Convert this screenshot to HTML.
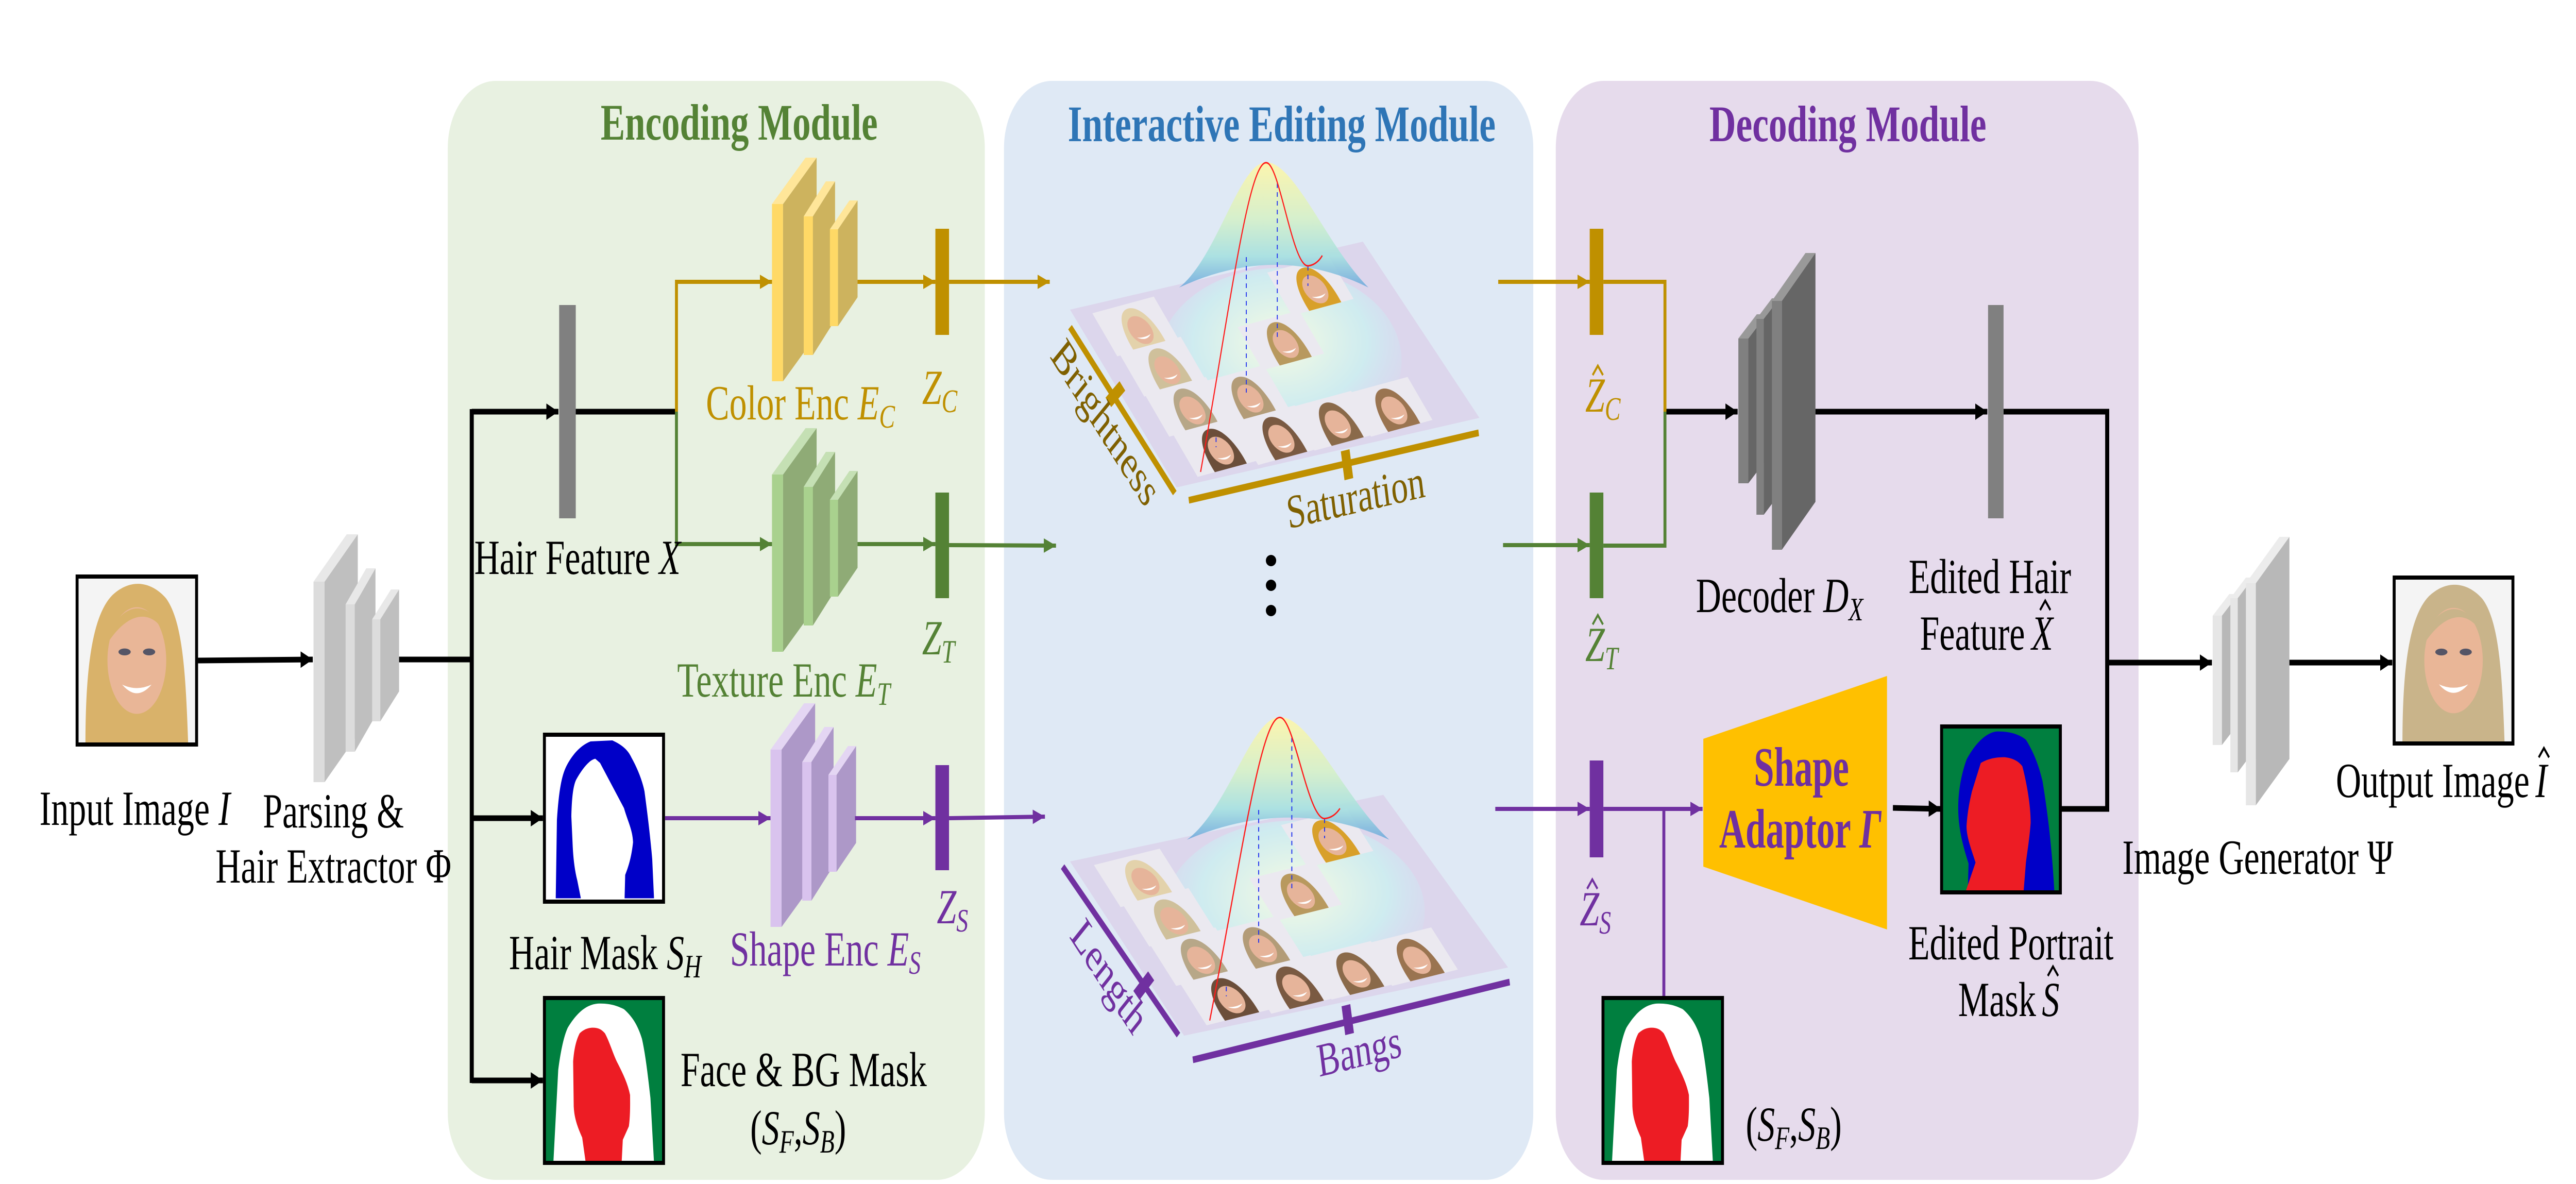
<!DOCTYPE html>
<html><head><meta charset="utf-8">
<style>
html,body{margin:0;padding:0;background:#fff;overflow:hidden;width:100%;height:100%;}
#root{display:block;width:100vw;height:100vh;}
text{font-family:"Liberation Serif","DejaVu Serif",serif;}
.it{font-style:italic;}
</style></head>
<body>
<svg id="root" viewBox="0 0 6984 2298" preserveAspectRatio="none" xmlns="http://www.w3.org/2000/svg">
<defs>
<marker id="ak" markerUnits="userSpaceOnUse" markerWidth="36" markerHeight="34" refX="33" refY="16" orient="auto"><path d="M0,0 L33,16 L0,32 z" fill="#000"/></marker>
<marker id="ao" markerUnits="userSpaceOnUse" markerWidth="36" markerHeight="34" refX="33" refY="14" orient="auto"><path d="M0,0 L33,14 L0,28 z" fill="#bf9000"/></marker>
<marker id="ag" markerUnits="userSpaceOnUse" markerWidth="36" markerHeight="34" refX="33" refY="14" orient="auto"><path d="M0,0 L33,14 L0,28 z" fill="#548235"/></marker>
<marker id="ap" markerUnits="userSpaceOnUse" markerWidth="36" markerHeight="34" refX="33" refY="14" orient="auto"><path d="M0,0 L33,14 L0,28 z" fill="#7030a0"/></marker>
<linearGradient id="bell" x1="0" y1="0" x2="0" y2="1">
<stop offset="0" stop-color="#fff6a6"/><stop offset="0.45" stop-color="#d5f0c8"/><stop offset="0.75" stop-color="#a6e0e0"/><stop offset="1" stop-color="#6fa8dc"/></linearGradient>
<radialGradient id="glow" cx="0.5" cy="0.4" r="0.6">
<stop offset="0" stop-color="#f6fbe2"/><stop offset="0.6" stop-color="#cdeef0" stop-opacity="0.9"/><stop offset="1" stop-color="#cfe0f5" stop-opacity="0"/></radialGradient>
<g id="enc">
<rect x="2093" y="396" width="30" height="344" style="fill:var(--f)"/>
<polygon points="2123,396 2214,306 2214,650 2123,740" style="fill:var(--s)"/>
<polygon points="2093,396 2184,306 2214,306 2123,396" style="fill:var(--t)"/>
<rect x="2179" y="420" width="25" height="269" style="fill:var(--f)"/>
<polygon points="2204,420 2264,352 2264,621 2204,689" style="fill:var(--s)"/>
<polygon points="2179,420 2239,352 2264,352 2204,420" style="fill:var(--t)"/>
<rect x="2250" y="445" width="22" height="188" style="fill:var(--f)"/>
<polygon points="2272,445 2325,389 2325,577 2272,633" style="fill:var(--s)"/>
<polygon points="2250,445 2303,389 2325,389 2272,445" style="fill:var(--t)"/>
</g>
<symbol id="hairmask" viewBox="0 0 100 100" preserveAspectRatio="none">
<rect width="100" height="100" fill="#fff"/>
<path d="M9.5,98 L10.5,51 C12,35 14,25 18.6,18.6 C25,10 32,6 38.7,4 L57,3.4 C65,6 70,9 73,13.6 C78,20 82,27 84,33.9 C87,50 89,62 90.5,74.6 L92,98 Z" fill="#0000c8"/>
<path d="M30.6,98 L27.6,87.3 C25,80 24,72 23.6,64.4 L22.6,49 C23,38 24,31 26.6,27 C32,20 38,15 42.7,14.4 L46.7,16.9 L66.8,44 C70,52 74,57 74.4,64.4 C73,74 70,80 67.8,84 L67.3,98 Z" fill="#fff"/>
</symbol>
<symbol id="fbmask" viewBox="0 0 100 100" preserveAspectRatio="none">
<rect width="100" height="100" fill="#007f3f"/>
<path d="M7.5,100 L11.6,43.6 C14,30 17,22 19.6,18 C28,8 36,4 44.7,3.4 C55,3 62,5 66.8,6.8 C75,12 79,18 81.9,24.8 C85,35 87,48 89,60.7 L92,100 Z" fill="#fff"/>
<path d="M34.7,100 L31.7,84.6 C27,77 25,72 24.6,65.8 L24.1,38.5 C25,30 27,25 29.6,21.4 C33,19 37,18 40.7,18 C45,18 48,19 50.8,21.4 C55,27 58,35 61.8,40 C66,46 70,52 71.9,58.8 C72,66 72,72 70.9,77.8 L65.8,86 L64.8,100 Z" fill="#ed1c24"/>
</symbol>
<symbol id="pmask" viewBox="0 0 100 100" preserveAspectRatio="none">
<rect width="100" height="100" fill="#007f3f"/>
<path d="M22,100 L22.7,82.6 C17,70 14,60 14,49 C14,38 17,28 21,20 C30,8 40,3 47.5,3 C58,3 66,5 71,8 C78,16 82,24 85,33 C90,55 93,75 95,100 Z" fill="#0000c8"/>
<path d="M20,100 L28.6,82 C24,72 21,66 21,60 C22,50 24,44 25.6,39 L33,22 C40,19 47,18.5 53,18.5 C60,19 65,21 68,24 C72,35 75,48 75,58 C74,68 72,76 71,82 L69,100 Z" fill="#ed1c24"/>
</symbol>
<symbol id="photo" viewBox="0 0 100 100" preserveAspectRatio="none">
<rect width="100" height="100" fill="#f4f4f4"/>
<path d="M8,100 C8,60 12,25 30,12 C45,2 62,4 74,14 C88,28 90,60 92,100 Z" style="fill:var(--h)"/>
<ellipse cx="50" cy="50" rx="24" ry="31" fill="#e9b697"/>
<path d="M26,40 C32,18 60,10 74,36 C66,22 46,18 26,40 Z" style="fill:var(--h)"/>
<ellipse cx="40" cy="45" rx="5" ry="2" fill="#556"/>
<ellipse cx="60" cy="45" rx="5" ry="2" fill="#556"/>
<path d="M38,64 Q50,74 62,64 Q50,68 38,64 Z" fill="#fff"/>
</symbol>
<symbol id="sm" viewBox="0 0 100 60" preserveAspectRatio="none">
<rect width="100" height="60" fill="#ebe9f0"/>
<path d="M28,60 C26,30 36,6 54,6 C72,6 82,30 80,60 Z" style="fill:var(--h)"/>
<ellipse cx="54" cy="36" rx="17" ry="19" fill="#e6b49a"/>
<path d="M43,44 Q54,52 65,44 Q54,47 43,44 Z" fill="#fff"/>
</symbol>
<g id="plane">
<polygon points="2901,601 3695,469 4011,811 3190,946" fill="#dcd6ec"/>
<ellipse cx="3470" cy="700" rx="330" ry="180" fill="url(#glow)"/>
<g>
<use href="#sm" width="170" height="95" transform="translate(3079,634) rotate(-11) skewX(28) translate(-85,-48)" style="--h:#e3d2ab"/>
<use href="#sm" width="170" height="95" transform="translate(3152,712) rotate(-11) skewX(28) translate(-85,-48)" style="--h:#cfc09b"/>
<use href="#sm" width="170" height="95" transform="translate(3220,790) rotate(-11) skewX(28) translate(-85,-48)" style="--h:#b7a788"/>
<use href="#sm" width="170" height="95" transform="translate(3377,767) rotate(-11) skewX(28) translate(-85,-48)" style="--h:#b39c78"/>
<use href="#sm" width="170" height="95" transform="translate(3473,661) rotate(-11) skewX(28) translate(-85,-48)" style="--h:#b8995e"/>
<use href="#sm" width="170" height="95" transform="translate(3553,555) rotate(-11) skewX(28) translate(-85,-48)" style="--h:#d8a02a"/>
<use href="#sm" width="170" height="95" transform="translate(3297,868) rotate(-11) skewX(28) translate(-85,-48)" style="--h:#6b4e3a"/>
<use href="#sm" width="170" height="95" transform="translate(3461,845) rotate(-11) skewX(28) translate(-85,-48)" style="--h:#7a5a42"/>
<use href="#sm" width="170" height="95" transform="translate(3614,817) rotate(-11) skewX(28) translate(-85,-48)" style="--h:#8a6a4a"/>
<use href="#sm" width="170" height="95" transform="translate(3767,790) rotate(-11) skewX(28) translate(-85,-48)" style="--h:#9a7450"/>
</g>
<path d="M3197,558 C3300,500 3360,315 3433,315 C3510,315 3600,480 3710,558 Q3461,470 3197,558 Z" fill="url(#bell)" opacity="0.9"/>
<g stroke="#2233ee" stroke-width="2.5" stroke-dasharray="9,8" fill="none">
<line x1="3379" y1="499" x2="3379" y2="762"/>
<line x1="3463" y1="356" x2="3463" y2="659"/>
<line x1="3546" y1="516" x2="3546" y2="555"/>
<line x1="3297" y1="849" x2="3297" y2="868"/>
</g>
<path d="M3255,916 C3330,620 3385,305 3435,316 C3470,322 3505,520 3547,516 Q3570,514 3585,496" fill="none" stroke="#ff1a1a" stroke-width="3"/>
</g>
</defs>

<rect x="1214" y="157" width="1456" height="2133" rx="130" fill="#e8f1e1"/>
<rect x="2722" y="157" width="1435" height="2133" rx="130" fill="#dfe9f5"/>
<rect x="4218" y="157" width="1580" height="2133" rx="130" fill="#e6dbec"/>

<text x="2004" y="271" font-size="100" font-weight="bold" fill="#548235" text-anchor="middle" textLength="751" lengthAdjust="spacingAndGlyphs">Encoding Module</text>
<text x="3475" y="274" font-size="100" font-weight="bold" fill="#2e75b6" text-anchor="middle" textLength="1160" lengthAdjust="spacingAndGlyphs">Interactive Editing Module</text>
<text x="5010" y="274" font-size="100" font-weight="bold" fill="#7030a0" text-anchor="middle" textLength="751" lengthAdjust="spacingAndGlyphs">Decoding Module</text>

<use href="#photo" x="205" y="1115" width="332" height="334" style="--h:#d9b26a"/>
<rect x="209" y="1119" width="324" height="326" fill="none" stroke="#000" stroke-width="8"/>
<use href="#photo" x="6487" y="1117" width="330" height="330" style="--h:#c9b48a"/>
<rect x="6491" y="1121" width="322" height="322" fill="none" stroke="#000" stroke-width="8"/>

<g>
<rect x="850" y="1129" width="30" height="389" fill="#dcdcdc"/>
<polygon points="880,1129 970,1037 970,1426 880,1518" fill="#bfbfbf"/>
<polygon points="850,1129 940,1037 970,1037 880,1129" fill="#e8e8e8"/>
<rect x="937" y="1173" width="25" height="286" fill="#dcdcdc"/>
<polygon points="962,1173 1018,1103 1018,1389 962,1459" fill="#bfbfbf"/>
<polygon points="937,1173 993,1103 1018,1103 962,1173" fill="#e8e8e8"/>
<rect x="1009" y="1202" width="22" height="198" fill="#dcdcdc"/>
<polygon points="1031,1202 1082,1144 1082,1342 1031,1400" fill="#bfbfbf"/>
<polygon points="1009,1202 1060,1144 1082,1144 1031,1202" fill="#e8e8e8"/>
</g>

<use href="#enc" style="--f:#ffd966;--s:#cdb35e;--t:#ffe699"/>
<use href="#enc" transform="translate(0,525)" style="--f:#a9d18e;--s:#8fab76;--t:#c5e0b4"/>
<use href="#enc" transform="translate(-4,1059)" style="--f:#d9c3ee;--s:#ad98c8;--t:#e4d6f3"/>

<g>
<rect x="4713" y="657" width="27" height="281" fill="#808080"/>
<polygon points="4740,657 4790,610 4790,891 4740,938" fill="#666"/>
<polygon points="4713,657 4763,610 4790,610 4740,657" fill="#999"/>
<rect x="4762" y="619" width="20" height="380" fill="#808080"/>
<polygon points="4782,619 4824,579 4824,959 4782,999" fill="#666"/>
<polygon points="4762,619 4804,579 4824,579 4782,619" fill="#999"/>
<rect x="4804" y="584" width="27" height="483" fill="#808080"/>
<polygon points="4831,584 4922,491 4922,974 4831,1067" fill="#666"/>
<polygon points="4804,584 4895,491 4922,491 4831,584" fill="#999"/>
</g>
<g>
<rect x="5999" y="1195" width="25" height="251" fill="#e6e6e6"/>
<polygon points="6024,1195 6069,1153 6069,1404 6024,1446" fill="#b8b8b8"/>
<polygon points="5999,1195 6044,1153 6069,1153 6024,1195" fill="#ececec"/>
<rect x="6047" y="1161" width="20" height="338" fill="#e6e6e6"/>
<polygon points="6067,1161 6109,1121 6109,1459 6067,1499" fill="#b8b8b8"/>
<polygon points="6047,1161 6089,1121 6109,1121 6067,1161" fill="#ececec"/>
<rect x="6089" y="1132" width="27" height="431" fill="#e6e6e6"/>
<polygon points="6116,1132 6207,1042 6207,1473 6116,1563" fill="#b8b8b8"/>
<polygon points="6089,1132 6180,1042 6207,1042 6116,1132" fill="#ececec"/>
</g>

<rect x="1516" y="592" width="45" height="414" fill="#808080"/>
<rect x="5390" y="592" width="42" height="414" fill="#808080"/>
<rect x="2536" y="444" width="37" height="206" fill="#bf9000"/>
<rect x="2536" y="956" width="37" height="205" fill="#548235"/>
<rect x="2536" y="1485" width="37" height="204" fill="#7030a0"/>
<rect x="4310" y="444" width="37" height="206" fill="#bf9000"/>
<rect x="4310" y="956" width="37" height="205" fill="#548235"/>
<rect x="4310" y="1476" width="37" height="188" fill="#7030a0"/>

<use href="#hairmask" x="1476" y="1426" width="323" height="324"/>
<rect x="1476" y="1426" width="323" height="324" fill="none" stroke="#000" stroke-width="8"/>
<use href="#fbmask" x="1476" y="1937" width="323" height="320"/>
<rect x="1476" y="1937" width="323" height="320" fill="none" stroke="#000" stroke-width="8"/>
<use href="#fbmask" x="4346" y="1937" width="324" height="320"/>
<rect x="4346" y="1937" width="324" height="320" fill="none" stroke="#000" stroke-width="8"/>
<use href="#pmask" x="5264" y="1410" width="322" height="322"/>
<rect x="5264" y="1410" width="322" height="322" fill="none" stroke="#000" stroke-width="8"/>

<polygon points="4618,1434 5116,1312 5116,1804 4618,1682" fill="#ffc000"/>
<text x="4884" y="1525" font-size="108" font-weight="bold" fill="#7030a0" text-anchor="middle" textLength="258" lengthAdjust="spacingAndGlyphs">Shape</text>
<text x="4881" y="1645" font-size="108" font-weight="bold" fill="#7030a0" text-anchor="middle" textLength="440" lengthAdjust="spacingAndGlyphs">Adaptor <tspan class="it">Γ</tspan></text>

<g stroke="#000" stroke-width="11" fill="none">
<line x1="537" y1="1282" x2="848" y2="1280" marker-end="url(#ak)"/>
<line x1="1082" y1="1280" x2="1279" y2="1280"/>
<line x1="1279" y1="794" x2="1279" y2="2102"/>
<line x1="1279" y1="799" x2="1514" y2="799" marker-end="url(#ak)"/>
<line x1="1279" y1="1588" x2="1472" y2="1588" marker-end="url(#ak)"/>
<line x1="1279" y1="2097" x2="1472" y2="2097" marker-end="url(#ak)"/>
<line x1="1561" y1="799" x2="1834" y2="799"/>
<line x1="4514" y1="799" x2="4711" y2="799" marker-end="url(#ak)"/>
<line x1="4922" y1="799" x2="5388" y2="799" marker-end="url(#ak)"/>
<polyline points="5432,799 5713,799 5713,1570 5590,1570"/>
<line x1="5713" y1="1286" x2="5997" y2="1286" marker-end="url(#ak)"/>
<line x1="6207" y1="1286" x2="6486" y2="1286" marker-end="url(#ak)"/>
<line x1="5132" y1="1568" x2="5262" y2="1570" marker-end="url(#ak)"/>
</g>
<g stroke="#bf9000" stroke-width="8" fill="none">
<polyline points="1834,799 1834,547 2093,547" marker-end="url(#ao)"/>
<line x1="2325" y1="547" x2="2536" y2="547" marker-end="url(#ao)"/>
<line x1="2573" y1="547" x2="2846" y2="547" marker-end="url(#ao)"/>
<line x1="4062" y1="547" x2="4310" y2="547" marker-end="url(#ao)"/>
<polyline points="4347,547 4514,547 4514,799"/>
</g>
<g stroke="#548235" stroke-width="8" fill="none">
<polyline points="1834,799 1834,1056 2093,1056" marker-end="url(#ag)"/>
<line x1="2325" y1="1056" x2="2536" y2="1056" marker-end="url(#ag)"/>
<line x1="2573" y1="1058" x2="2863" y2="1059" marker-end="url(#ag)"/>
<line x1="4075" y1="1058" x2="4310" y2="1058" marker-end="url(#ag)"/>
<polyline points="4347,1059 4514,1059 4514,799"/>
</g>
<g stroke="#7030a0" stroke-width="8" fill="none">
<line x1="1803" y1="1588" x2="2089" y2="1588" marker-end="url(#ap)"/>
<line x1="2318" y1="1588" x2="2536" y2="1588" marker-end="url(#ap)"/>
<line x1="2573" y1="1588" x2="2833" y2="1585" marker-end="url(#ap)"/>
<line x1="4054" y1="1570" x2="4310" y2="1570" marker-end="url(#ap)"/>
<line x1="4347" y1="1570" x2="4616" y2="1570" marker-end="url(#ap)"/>
<line x1="4511" y1="1570" x2="4511" y2="1933"/>
</g>

<use href="#plane"/>
<use href="#plane" transform="translate(2901,1672) scale(1.07,0.98) translate(-2901,-601)"/>
<g stroke="#bf9000" stroke-width="13">
<line x1="2901" y1="635" x2="3185" y2="957"/>
<line x1="3005" y1="781" x2="3043" y2="749" stroke-width="24"/>
<line x1="3223" y1="971" x2="4009" y2="840"/>
<line x1="3647" y1="874" x2="3657" y2="930" stroke-width="24"/>
</g>
<g stroke="#7030a0" stroke-width="13">
<line x1="2881" y1="1682" x2="3195" y2="2009"/>
<line x1="3081" y1="1932" x2="3121" y2="1894" stroke-width="24"/>
<line x1="3234" y1="2057" x2="4093" y2="1906"/>
<line x1="3649" y1="1951" x2="3659" y2="2007" stroke-width="24"/>
</g>
<text transform="translate(2975,840) rotate(48.6)" font-size="92" fill="#7f6000" text-anchor="middle">Brightness</text>
<text transform="translate(3680,995) rotate(-9.5)" font-size="92" fill="#7f6000" text-anchor="middle">Saturation</text>
<text transform="translate(2985,1915) rotate(48)" font-size="92" fill="#7030a0" text-anchor="middle">Length</text>
<text transform="translate(3690,2070) rotate(-10)" font-size="92" fill="#7030a0" text-anchor="middle">Bangs</text>
<ellipse cx="3446" cy="1088" rx="14" ry="11" fill="#000"/>
<ellipse cx="3446" cy="1136" rx="14" ry="11" fill="#000"/>
<ellipse cx="3446" cy="1185" rx="14" ry="11" fill="#000"/>

<g font-size="95" fill="#000">
<text x="107" y="1601">Input Image <tspan class="it">I</tspan></text>
<text x="904" y="1606" text-anchor="middle">Parsing &amp;</text>
<text x="904" y="1713" text-anchor="middle">Hair Extractor Φ</text>
<text x="1286" y="1114">Hair Feature <tspan class="it">X</tspan></text>
<text x="1380" y="1881">Hair Mask <tspan class="it">S</tspan><tspan class="it" font-size="64" dy="16">H</tspan></text>
<text x="1845" y="2108">Face &amp; BG Mask</text>
<text x="2164" y="2221" text-anchor="middle">(<tspan class="it">S</tspan><tspan class="it" font-size="64" dy="16">F</tspan><tspan dy="-16">,</tspan><tspan class="it">S</tspan><tspan class="it" font-size="64" dy="16">B</tspan><tspan dy="-16">)</tspan></text>
<text x="4733" y="2214">(<tspan class="it">S</tspan><tspan class="it" font-size="64" dy="16">F</tspan><tspan dy="-16">,</tspan><tspan class="it">S</tspan><tspan class="it" font-size="64" dy="16">B</tspan><tspan dy="-16">)</tspan></text>
<text x="4598" y="1188">Decoder <tspan class="it">D</tspan><tspan class="it" font-size="64" dy="16">X</tspan></text>
<text x="5395" y="1151" text-anchor="middle">Edited Hair</text>
<text x="5490" y="1261" text-anchor="end">Feature</text>
<text x="5508" y="1261" class="it">X</text>
<text x="5452" y="1862" text-anchor="middle">Edited Portrait</text>
<text x="5520" y="1972" text-anchor="end">Mask</text>
<text x="5536" y="1972" class="it">S</text>
<text x="5754" y="1696">Image Generator Ψ</text>
<text x="6858" y="1547" text-anchor="end">Output Image</text>
<text x="6874" y="1547" class="it">I</text>
</g>
<g fill="none" stroke="#000" stroke-width="5">
<polyline points="5531,1184 5545,1166 5559,1184"/>
<polyline points="5552,1894 5566,1876 5580,1894"/>
<polyline points="6883,1470 6897,1452 6911,1470"/>
</g>
<g font-size="95">
<text x="1914" y="814" fill="#bf9000">Color Enc <tspan class="it">E</tspan><tspan class="it" font-size="64" dy="16">C</tspan></text>
<text x="1836" y="1352" fill="#548235">Texture Enc <tspan class="it">E</tspan><tspan class="it" font-size="64" dy="16">T</tspan></text>
<text x="1979" y="1874" fill="#7030a0">Shape Enc <tspan class="it">E</tspan><tspan class="it" font-size="64" dy="16">S</tspan></text>
<text x="2500" y="784" fill="#bf9000" class="it">Z<tspan font-size="64" dy="16">C</tspan></text>
<text x="2500" y="1270" fill="#548235" class="it">Z<tspan font-size="64" dy="16">T</tspan></text>
<text x="2540" y="1792" fill="#7030a0" class="it">Z<tspan font-size="64" dy="16">S</tspan></text>
<text x="4298" y="799" fill="#bf9000" class="it">Z<tspan font-size="64" dy="16">C</tspan></text>
<text x="4298" y="1283" fill="#548235" class="it">Z<tspan font-size="64" dy="16">T</tspan></text>
<text x="4283" y="1796" fill="#7030a0" class="it">Z<tspan font-size="64" dy="16">S</tspan></text>
</g>
<g fill="none" stroke-width="5">
<polyline points="4318,728 4332,710 4346,728" stroke="#bf9000"/>
<polyline points="4318,1212 4332,1194 4346,1212" stroke="#548235"/>
<polyline points="4303,1725 4317,1707 4331,1725" stroke="#7030a0"/>
</g>
</svg>
</body></html>
